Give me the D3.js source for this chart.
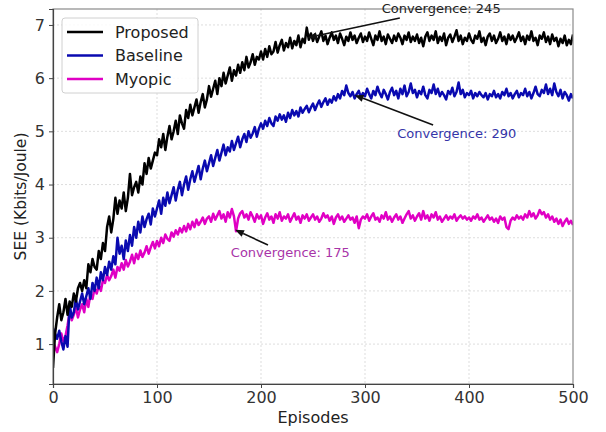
<!DOCTYPE html>
<html>
<head>
<meta charset="utf-8">
<script src="https://cdn.jsdelivr.net/npm/d3@7"></script>
<style>
  html, body { margin: 0; padding: 0; background: #fff; }
  svg { display: block; font-family: "DejaVu Sans", sans-serif; }
</style>
</head>
<body>
<svg id="chart" width="606" height="432"></svg>
<script>
// Episode index for every stored sample (one sample every 2 episodes)
const episodes = d3.range(0, 501, 2);

// SEE (Kbits/Joule) per sampled episode, 25 samples (50 episodes) per row
const proposed = [
  0.55, 1.20, 1.50, 1.75, 1.45, 1.60, 1.85, 1.55, 1.80, 1.70, 1.95, 1.80, 2.05, 2.15, 2.00, 2.20, 2.05, 2.50, 2.35, 2.60, 2.45, 2.40, 2.75, 2.60, 2.90,
  2.75, 3.20, 3.40, 3.10, 3.35, 3.75, 3.45, 3.70, 3.55, 3.85, 3.50, 3.75, 4.20, 3.80, 3.95, 4.05, 3.85, 4.15, 4.00, 4.40, 4.20, 4.50, 4.30, 4.45, 4.60,
  4.55, 4.85, 4.70, 4.95, 4.65, 4.90, 5.10, 4.85, 5.00, 5.20, 4.95, 5.30, 5.15, 5.05, 5.40, 5.25, 5.50, 5.30, 5.45, 5.60, 5.35, 5.55, 5.70, 5.45, 5.60,
  5.85, 5.65, 5.80, 5.95, 5.70, 6.00, 5.85, 6.10, 5.90, 6.05, 6.20, 5.95, 6.15, 6.05, 6.25, 6.10, 6.30, 6.15, 6.40, 6.20, 6.30, 6.45, 6.25, 6.40, 6.35,
  6.50, 6.35, 6.55, 6.40, 6.60, 6.45, 6.50, 6.68, 6.48, 6.62, 6.72, 6.52, 6.66, 6.58, 6.76, 6.56, 6.70, 6.62, 6.80, 6.58, 6.74, 6.66, 6.95, 6.72, 6.84,
  6.70, 6.82, 6.68, 6.78, 6.88, 6.70, 6.80, 6.64, 6.76, 6.86, 6.72, 6.80, 6.66, 6.84, 6.74, 6.62, 6.78, 6.70, 6.86, 6.72, 6.80, 6.66, 6.76, 6.84, 6.68,
  6.78, 6.70, 6.86, 6.74, 6.62, 6.80, 6.72, 6.88, 6.70, 6.78, 6.64, 6.82, 6.74, 6.66, 6.80, 6.70, 6.84, 6.76, 6.64, 6.80, 6.72, 6.86, 6.68, 6.78, 6.70,
  6.82, 6.66, 6.76, 6.60, 6.78, 6.86, 6.70, 6.80, 6.72, 6.88, 6.66, 6.78, 6.70, 6.84, 6.62, 6.76, 6.82, 6.68, 6.78, 6.90, 6.70, 6.80, 6.64, 6.76, 6.70,
  6.84, 6.72, 6.66, 6.80, 6.74, 6.88, 6.68, 6.76, 6.62, 6.78, 6.84, 6.70, 6.80, 6.66, 6.74, 6.86, 6.70, 6.78, 6.64, 6.82, 6.72, 6.80, 6.68, 6.76, 6.86,
  6.70, 6.78, 6.64, 6.80, 6.72, 6.88, 6.70, 6.76, 6.62, 6.80, 6.74, 6.86, 6.68, 6.78, 6.64, 6.82, 6.70, 6.76, 6.60, 6.74, 6.66, 6.80, 6.62, 6.72, 6.64,
  6.82
];
const baseline = [
  1.30, 1.20, 1.10, 1.25, 1.05, 0.90, 1.15, 0.95, 1.75, 1.50, 1.60, 1.85, 1.65, 1.80, 1.95, 1.75, 1.90, 2.05, 1.85, 2.15, 2.00, 2.25, 2.05, 2.35, 2.20,
  2.45, 2.30, 2.55, 2.40, 2.65, 2.50, 3.00, 2.70, 2.85, 2.60, 2.95, 2.75, 3.05, 2.85, 3.20, 3.00, 3.30, 3.10, 3.40, 3.20, 3.35, 3.45, 3.25, 3.55, 3.40,
  3.55, 3.70, 3.45, 3.75, 3.60, 3.85, 3.65, 3.80, 3.95, 3.70, 3.90, 4.05, 3.80, 4.00, 4.15, 3.90, 4.10, 4.25, 4.05, 4.20, 4.35, 4.10, 4.30, 4.45, 4.25,
  4.40, 4.55, 4.35, 4.50, 4.65, 4.45, 4.60, 4.75, 4.55, 4.70, 4.62, 4.82, 4.65, 4.78, 4.90, 4.70, 4.85, 4.95, 4.80, 5.00, 4.88, 4.96, 5.08, 4.90, 5.05,
  5.15, 5.05, 5.20, 5.10, 5.25, 5.15, 5.10, 5.28, 5.20, 5.32, 5.22, 5.30, 5.18, 5.35, 5.25, 5.40, 5.30, 5.38, 5.28, 5.45, 5.35, 5.42, 5.48, 5.36, 5.45,
  5.52, 5.40, 5.50, 5.58, 5.46, 5.55, 5.62, 5.50, 5.60, 5.54, 5.66, 5.58, 5.70, 5.62, 5.76, 5.68, 5.86, 5.72, 5.66, 5.74, 5.62, 5.70, 5.76, 5.64, 5.72,
  5.66, 5.80, 5.70, 5.62, 5.76, 5.68, 5.84, 5.72, 5.64, 5.78, 5.70, 5.60, 5.74, 5.82, 5.68, 5.76, 5.62, 5.80, 5.70, 5.86, 5.66, 5.74, 5.90, 5.72, 5.78,
  5.64, 5.76, 5.70, 5.84, 5.68, 5.62, 5.78, 5.72, 5.88, 5.70, 5.80, 5.66, 5.74, 5.68, 5.60, 5.76, 5.70, 5.82, 5.66, 5.74, 5.92, 5.70, 5.78, 5.64, 5.72,
  5.68, 5.76, 5.62, 5.72, 5.66, 5.74, 5.68, 5.64, 5.72, 5.60, 5.70, 5.66, 5.76, 5.64, 5.70, 5.62, 5.74, 5.68, 5.80, 5.66, 5.72, 5.62, 5.70, 5.76, 5.64,
  5.72, 5.68, 5.80, 5.66, 5.74, 5.62, 5.72, 5.84, 5.70, 5.66, 5.78, 5.72, 5.88, 5.70, 5.80, 5.68, 5.90, 5.74, 5.66, 5.78, 5.62, 5.74, 5.68, 5.58, 5.70,
  5.62
];
const myopic = [
  1.05, 0.95, 0.85, 1.00, 1.20, 1.05, 1.15, 1.35, 1.60, 1.45, 1.55, 1.70, 1.50, 1.65, 1.75, 1.60, 1.85, 1.70, 1.95, 1.85, 2.05, 1.95, 2.10, 2.00, 2.20,
  2.15, 2.30, 2.20, 2.28, 2.40, 2.25, 2.45, 2.38, 2.52, 2.40, 2.58, 2.46, 2.55, 2.68, 2.52, 2.70, 2.60, 2.76, 2.64, 2.72, 2.84, 2.70, 2.82, 2.92, 2.80,
  2.94, 2.84, 3.00, 2.90, 3.06, 2.98, 2.94, 3.10, 3.02, 3.14, 3.06, 3.18, 3.10, 3.22, 3.12, 3.26, 3.16, 3.30, 3.20, 3.34, 3.24, 3.30, 3.38, 3.26, 3.36,
  3.40, 3.30, 3.45, 3.34, 3.42, 3.50, 3.36, 3.44, 3.30, 3.48, 3.38, 3.54, 3.40, 3.12, 3.36, 3.46, 3.50, 3.38, 3.44, 3.34, 3.48, 3.40, 3.30, 3.44, 3.36,
  3.42, 3.26, 3.38, 3.46, 3.34, 3.40, 3.28, 3.44, 3.36, 3.48, 3.32, 3.40, 3.36, 3.44, 3.30, 3.38, 3.46, 3.34, 3.40, 3.28, 3.42, 3.36, 3.44, 3.32, 3.38,
  3.44, 3.34, 3.40, 3.30, 3.36, 3.46, 3.38, 3.42, 3.32, 3.40, 3.26, 3.38, 3.44, 3.34, 3.40, 3.30, 3.36, 3.42, 3.34, 3.38, 3.28, 3.40, 3.18, 3.34, 3.40,
  3.36, 3.44, 3.32, 3.40, 3.46, 3.34, 3.38, 3.30, 3.42, 3.36, 3.48, 3.34, 3.40, 3.30, 3.38, 3.44, 3.34, 3.40, 3.28, 3.36, 3.44, 3.50, 3.36, 3.42, 3.32,
  3.40, 3.46, 3.34, 3.50, 3.36, 3.42, 3.32, 3.44, 3.38, 3.48, 3.34, 3.40, 3.30, 3.36, 3.42, 3.34, 3.40, 3.36, 3.44, 3.32, 3.38, 3.42, 3.36, 3.40, 3.34,
  3.38, 3.32, 3.40, 3.36, 3.44, 3.34, 3.38, 3.30, 3.36, 3.42, 3.34, 3.38, 3.30, 3.36, 3.28, 3.40, 3.34, 3.38, 3.20, 3.16, 3.32, 3.38, 3.34, 3.42, 3.36,
  3.40, 3.34, 3.44, 3.38, 3.50, 3.40, 3.46, 3.36, 3.42, 3.52, 3.44, 3.48, 3.38, 3.44, 3.34, 3.40, 3.30, 3.36, 3.26, 3.34, 3.22, 3.30, 3.36, 3.26, 3.32,
  3.24
];

const seriesNames = ["Proposed", "Baseline", "Myopic"];
const seriesColors = ["#000000", "#0a0ab0", "#e000c4"];

const xTicks = [0, 100, 200, 300, 400, 500];
const yTicks = [1, 2, 3, 4, 5, 6, 7];

// Convergence episodes and their SEE values
const convEpisodes = [245, 290, 175];
const convValues = [6.76, 5.68, 3.15];
const convLabels = ["Convergence: 245", "Convergence: 290", "Convergence: 175"];
const convTextColors = ["#222222", "#3535a8", "#a834a8"];

const svg = d3.select("#chart");
const plotL = 53, plotR = 573, plotT = 9, plotB = 384;

const x = d3.scaleLinear().domain([0, 500]).range([plotL, plotR]);
const y = d3.scaleLinear().domain([0.25, 7.3]).range([plotB, plotT]);

// grid
const grid = svg.append("g");
grid.selectAll(".gx").data(xTicks.slice(1, -1)).join("line")
  .attr("x1", d => x(d)).attr("x2", d => x(d))
  .attr("y1", plotT).attr("y2", plotB)
  .attr("stroke", "#d4d4d4").attr("stroke-width", 0.8).attr("stroke-dasharray", "2,2");
grid.selectAll(".gy").data(yTicks).join("line")
  .attr("x1", plotL).attr("x2", plotR)
  .attr("y1", d => y(d)).attr("y2", d => y(d))
  .attr("stroke", "#d4d4d4").attr("stroke-width", 0.8).attr("stroke-dasharray", "2,2");

// series lines
svg.append("defs").append("clipPath").attr("id", "plotclip")
  .append("rect").attr("x", plotL).attr("y", plotT)
  .attr("width", plotR - plotL).attr("height", plotB - plotT);

const seriesData = [proposed, baseline, myopic];
const line = d3.line().x(d => x(d[0])).y(d => y(d[1]));
const lines = svg.append("g").attr("clip-path", "url(#plotclip)");
// myopic first, proposed last (on top)
[2, 1, 0].forEach(i => {
  const vals = seriesData[i];
  const n = Math.min(vals.length, episodes.length);
  const pts = d3.range(n).map(k => [episodes[k], vals[k]]);
  lines.append("path").datum(pts)
    .attr("d", line)
    .attr("fill", "none")
    .attr("stroke", seriesColors[i])
    .attr("stroke-width", 2.5)
    .attr("stroke-linejoin", "round");
});

// frame
svg.append("rect").attr("x", plotL).attr("y", plotT)
  .attr("width", plotR - plotL).attr("height", plotB - plotT)
  .attr("fill", "none").attr("stroke", "#8a8a8a").attr("stroke-width", 1.2);

// axes
const xAxis = svg.append("g").attr("transform", `translate(0,${plotB})`)
  .call(d3.axisBottom(x).tickValues(xTicks).tickSize(4).tickPadding(4).tickFormat(d3.format("d")));
const yAxis = svg.append("g").attr("transform", `translate(${plotL},0)`)
  .call(d3.axisLeft(y).tickValues(yTicks).tickSize(4).tickPadding(4).tickFormat(d3.format("d")));
[xAxis, yAxis].forEach(a => {
  a.select(".domain").attr("stroke", "#444").attr("stroke-width", 1.2);
  a.selectAll(".tick line").attr("stroke", "#444");
  a.selectAll(".tick text").attr("fill", "#333").style("font-size", "16px")
    .style("font-family", "DejaVu Sans, sans-serif");
});

// axis titles
svg.append("text").attr("x", (plotL + plotR) / 2).attr("y", 423)
  .attr("text-anchor", "middle").attr("fill", "#222")
  .style("font-size", "16px").text("Episodes");
svg.append("text")
  .attr("transform", `translate(26,${(plotT + plotB) / 2}) rotate(-90)`)
  .attr("text-anchor", "middle").attr("fill", "#222")
  .style("font-size", "15.5px").text("SEE (Kbits/Joule)");

// legend
const lg = svg.append("g");
lg.append("rect").attr("x", 62).attr("y", 18).attr("width", 136).attr("height", 75)
  .attr("rx", 3).attr("fill", "#fff").attr("fill-opacity", 0.85)
  .attr("stroke", "#d0d0d0").attr("stroke-width", 1);
seriesNames.forEach((name, i) => {
  const ly = 32 + i * 23.5;
  lg.append("line").attr("x1", 67).attr("x2", 103).attr("y1", ly).attr("y2", ly)
    .attr("stroke", seriesColors[i]).attr("stroke-width", 2.6);
  lg.append("text").attr("x", 115).attr("y", ly + 5.8).attr("fill", "#222")
    .style("font-size", "16px").text(name);
});

// convergence annotations (text position, arrow start, arrow tip in data units)
const textPos = [[316, 7.225], [331, 4.875], [171, 2.638]];
const arrowStart = [[333.5, 7.13], [365.5, 5.12], [206.7, 2.864]];

const ann = svg.append("g");
convEpisodes.forEach((ep, i) => {
  const x0 = x(arrowStart[i][0]), y0 = y(arrowStart[i][1]);
  const x1 = x(ep), y1 = y(convValues[i]);
  const ang = Math.atan2(y1 - y0, x1 - x0);
  const hl = 9, hw = 3.6;
  const bx = x1 - hl * Math.cos(ang), by = y1 - hl * Math.sin(ang);
  ann.append("line").attr("x1", x0).attr("y1", y0).attr("x2", bx).attr("y2", by)
    .attr("stroke", "#111").attr("stroke-width", 1.6);
  const px = -Math.sin(ang), py = Math.cos(ang);
  ann.append("path")
    .attr("d", `M${x1},${y1}L${bx + hw * px},${by + hw * py}L${bx - hw * px},${by - hw * py}Z`)
    .attr("fill", "#111");
  ann.append("text").attr("x", x(textPos[i][0])).attr("y", y(textPos[i][1]))
    .attr("fill", convTextColors[i]).style("font-size", "13px").text(convLabels[i]);
});
</script>
</body>
</html>
